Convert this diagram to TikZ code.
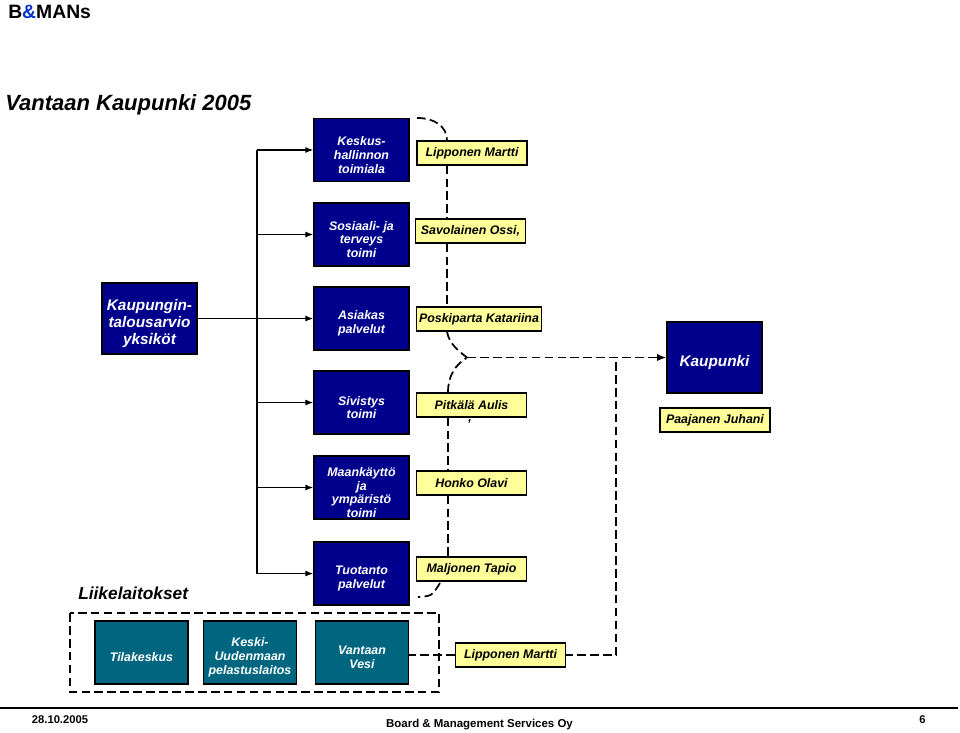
\documentclass[tikz,border=0pt]{standalone}
\usepackage{fontspec}
\setmainfont{Liberation Sans}
\usetikzlibrary{arrows.meta}

\definecolor{deptblue}{RGB}{0,0,140}
\definecolor{unitteal}{RGB}{0,102,128}
\definecolor{nameyellow}{RGB}{255,255,153}
\definecolor{ampblue}{RGB}{0,51,204}

\tikzset{
  darktext/.style={text=white, font=\bfseries\itshape\fontsize{9.3}{10.3}\selectfont, align=center, yshift=-3.75pt},
  deptbox/.style={draw=black, line width=0.9pt, fill=deptblue, minimum width=71.25pt, minimum height=47.25pt, label={[darktext]center:{#1}}},
  bigbox/.style={draw=black, line width=0.9pt, fill=deptblue, minimum width=71.25pt, minimum height=53.25pt, label={[darktext, font=\bfseries\itshape\fontsize{11.5}{12.5}\selectfont]center:{#1}}},
  unitbox/.style={draw=black, line width=0.9pt, fill=unitteal, minimum width=69.75pt, minimum height=47.25pt, label={[darktext]center:{#1}}},
  namebox/.style={draw=black, line width=0.9pt, fill=nameyellow, font=\bfseries\itshape\fontsize{9.3}{10.3}\selectfont, minimum width=82.5pt, minimum height=18pt, inner xsep=2pt},
  treeline/.style={line width=1pt},
  dashline/.style={line width=1.3pt, dash pattern=on 6.5pt off 3.2pt},
}

\begin{document}
\begin{tikzpicture}[x=0.75pt, y=-0.75pt]
\useasboundingbox (0,0) rectangle (960,732);

% header
\node[anchor=base west, inner sep=0pt, font=\bfseries\fontsize{14.5}{17}\selectfont] (brand) at (8,18.5) {B{\color{ampblue}\&}MANs};
\node[anchor=base west, inner sep=0pt, font=\bfseries\itshape\fontsize{16.5}{20}\selectfont] (title) at (5,110.5) {Vantaan Kaupunki 2005};

% departments
\node[bigbox={Kaupungin-\\talousarvio\\yksiköt}] (talous) at (149.5,318.5) {};
\node[deptbox={Keskus-\\hallinnon\\toimiala}] (kesk) at (361.5,150) {};
\node[deptbox={Sosiaali- ja\\terveys\\toimi}] (sos) at (361.5,234.5) {};
\node[deptbox={Asiakas\\palvelut}] (asia) at (361.5,318.5) {};
\node[deptbox={Sivistys\\toimi}] (siv) at (361.5,402.5) {};
\node[deptbox={Maankäyttö\\ja\\ympäristö\\toimi}] (maa) at (361.5,487.5) {};
\node[deptbox={Tuotanto\\palvelut}] (tuot) at (361.5,573.5) {};
\node[bigbox={Kaupunki}] (kaup) at (714.5,357.5) {};

% business units
\node[anchor=base west, inner sep=0pt, font=\bfseries\itshape\fontsize{13}{15}\selectfont] (liike) at (78,599) {Liikelaitokset};
\node[unitbox={Tilakeskus}] (tila) at (141.5,652.5) {};
\node[unitbox={Keski-\\Uudenmaan\\pelastuslaitos}] (pelastus) at (250,652.5) {};
\node[unitbox={Vantaan\\Vesi}] (vesi) at (362,652.5) {};

% names
\node[namebox] (lip1) at (472,153) {Lipponen Martti};
\node[namebox] (savo) at (470.5,231) {Savolainen Ossi,};
\node[namebox] (posk) at (479,319) {Poskiparta Katariina};
\node[namebox] (pitk) at (471.5,405) {Pitkälä Aulis};
\node[anchor=base, inner sep=0pt, font=\bfseries\itshape\fontsize{9.3}{10.3}\selectfont] (comma) at (470,421) {,};
\node[namebox] (paaj) at (715,420) {Paajanen Juhani};
\node[namebox] (hon) at (471.5,483) {Honko Olavi};
\node[namebox] (malj) at (471.5,569) {Maljonen Tapio};
\node[namebox] (lip2) at (510.5,655) {Lipponen Martti};

\coordinate (trunk) at (257,0);
\coordinate (spineA) at (447,0);
\coordinate (spineB) at (448,0);
\coordinate (merge) at (467,357.5);
\coordinate (kesktip) at (417,118);
\coordinate (riser) at (616,362);
\coordinate (maljtip) at (440,583);
\coordinate (tuottip) at (418,597);

% tree
\draw[treeline] (kesk.west -| trunk) -- (tuot.west -| trunk);
\draw[treeline] (talous.east) -- (asia.west -| trunk);
\foreach \dept in {kesk, sos, asia, siv, maa, tuot}
{	\draw[treeline, -{Latex[length=6pt, width=4.5pt]}] (\dept.west -| trunk) -- (\dept.west);
}

% dashed links
\draw[dashline] (kesktip) .. controls (434,118) and (447,126) .. (lip1.north -| spineA);
\def\upperspine {lip1/savo, savo/posk}
\foreach \u/\v in \upperspine
{	\draw[dashline] (\u.south -| spineA) -- (\v.north -| spineA);
}
\draw[dashline] (posk.south -| spineA) .. controls (449,343) and (457,350) .. (merge);
\draw[dashline] (pitk.north -| spineB) .. controls (448,376) and (455,365) .. (merge);
\draw[dashline, -{Latex[length=7pt, width=5.5pt]}] (merge) -- (kaup.west);
\def\lowerspine {pitk/hon, hon/malj}
\foreach \u/\v in \lowerspine
{	\draw[dashline] (\u.south -| spineB) -- (\v.north -| spineB);
}
\draw[dashline] (maljtip) .. controls (432,596) .. (tuottip);
\draw[dashline] (riser) |- (lip2.east);
\draw[dashline] (lip2.west) -- (lip2.west -| vesi.east);
\draw[dashline] (70,613) rectangle (439,692);

% footer
\draw[line width=1.5pt] (0,708) -- (958,708);
\node[anchor=base, inner sep=0pt, font=\bfseries\fontsize{8.4}{10}\selectfont] (date) at (60,723) {28.10.2005};
\node[anchor=base, inner sep=0pt, font=\bfseries\fontsize{8.6}{10}\selectfont] (firm) at (479.5,727) {Board \& Management Services Oy};
\node[anchor=base, inner sep=0pt, font=\bfseries\fontsize{8.4}{10}\selectfont] (page) at (922.5,723) {6};
\end{tikzpicture}
\end{document}
